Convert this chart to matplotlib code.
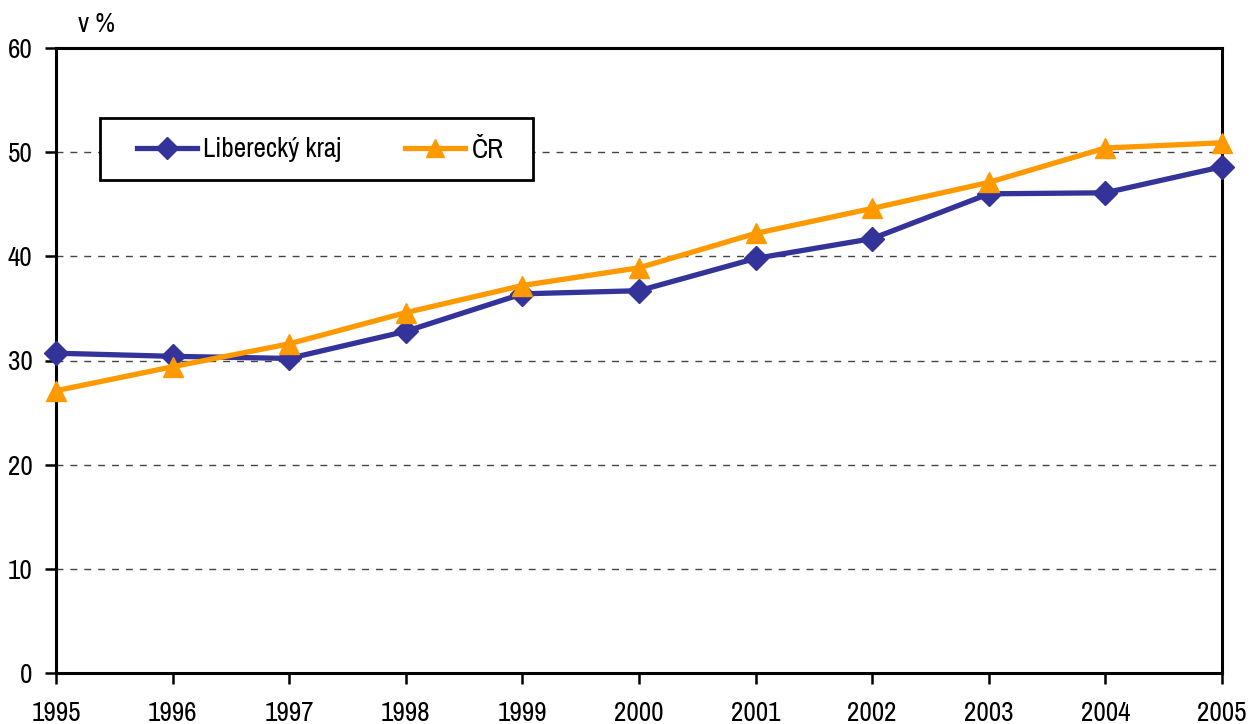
import matplotlib
matplotlib.use("Agg")
import matplotlib.pyplot as plt
from matplotlib import font_manager
from matplotlib.patches import Rectangle

years = [1995, 1996, 1997, 1998, 1999, 2000, 2001, 2002, 2003, 2004, 2005]
liberecky = [30.7, 30.4, 30.2, 32.8, 36.4, 36.7, 39.8, 41.7, 46.0, 46.1, 48.6]
cr = [27.1, 29.4, 31.6, 34.6, 37.2, 38.9, 42.2, 44.6, 47.1, 50.4, 50.9]
series_names = ["Liberecký kraj", "ČR"]
yticks = [0, 10, 20, 30, 40, 50, 60]

fonts = font_manager.fontManager.ttflist
cands = sorted({f.name for f in fonts if ('Narrow' in f.name or 'Condensed' in f.name)})
if cands:
    fam = cands[0]
    fs = 19.5
else:
    fam = 'Liberation Sans'
    fs = 17
plt.rcParams['font.family'] = [fam, 'DejaVu Sans']

W, H = 1249, 724
fig = plt.figure(figsize=(W/100, H/100), dpi=100)
ax = fig.add_axes([56/W, 51/H, (1222-56)/W, (673-48)/H])

ax.plot(years, liberecky, color="#333399", lw=3.8, marker="D", markersize=12.5,
        label=series_names[0], zorder=3, clip_on=False)
ax.plot(years, cr, color="#FF9900", lw=3.8, marker="^", markersize=14,
        label=series_names[1], zorder=3, clip_on=False)

ax.set_xlim(1995, 2005)
ax.set_ylim(0, 60)
ax.set_xticks(years)
ax.set_yticks(yticks)
ax.tick_params(axis='both', labelsize=fs, width=1.8, length=8, direction='out')
ax.tick_params(axis='x', pad=12)
ax.tick_params(axis='y', pad=9)
ax.grid(axis='y', linestyle=(0, (5, 5)), color='#444444', lw=1.0)
for s in ax.spines.values():
    s.set_linewidth(2.2)
    s.set_color('black')
    s.set_zorder(2.5)

fig.text(78/W, 1 - 24/H, "v %", fontsize=fs, va='center', ha='left')

# legend frame
fig.patches.append(Rectangle((100/W, 1 - 180/H), (533-100)/W, (180-118)/H,
                             transform=fig.transFigure, facecolor='white',
                             edgecolor='black', lw=2.0, zorder=4))
leg = fig.legend(loc='center left', bbox_to_anchor=(137/W, 1 - 150/H), ncol=2,
                 fontsize=fs, frameon=False, handlelength=2.2, columnspacing=2.35,
                 borderpad=0, borderaxespad=0, handletextpad=0.25, markerscale=0.9)
leg.set_zorder(5)

fig.savefig("out.png", dpi=100)
